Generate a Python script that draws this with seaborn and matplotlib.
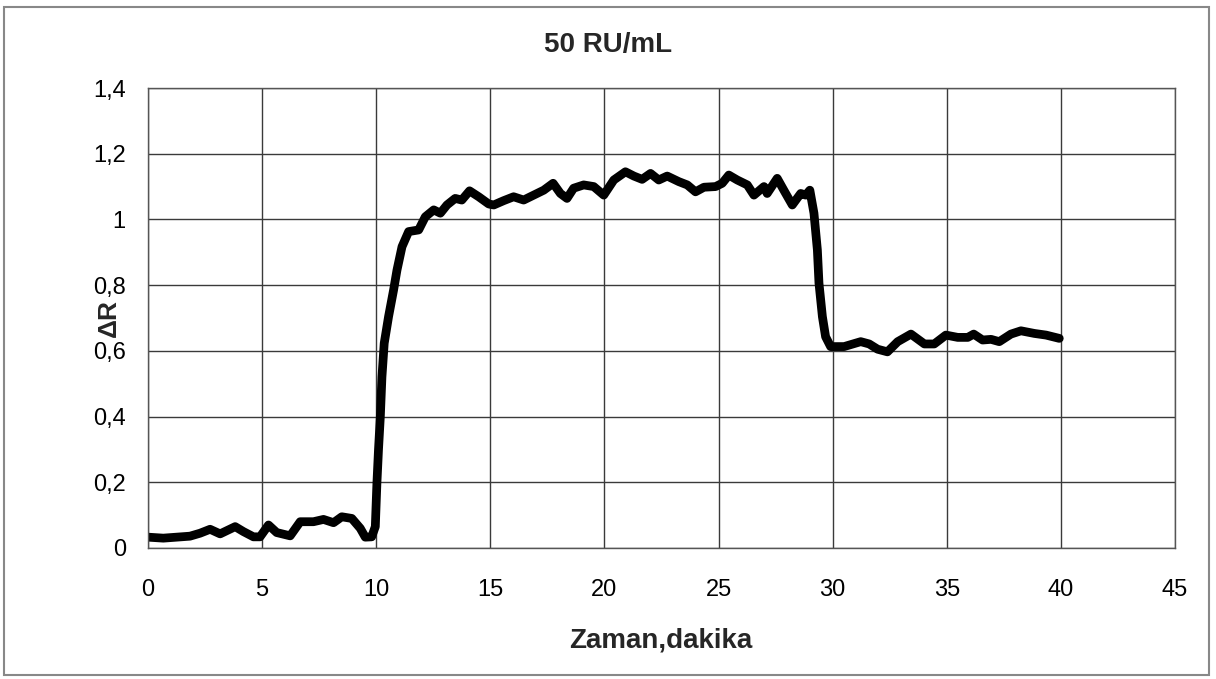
import numpy as np
import pandas as pd
import matplotlib
matplotlib.use("Agg")
import matplotlib.pyplot as plt
import seaborn as sns
from matplotlib.patches import Rectangle

# Data
time_min = [0.0, 0.67, 1.84, 2.28, 2.72, 3.16, 3.82, 4.18, 4.62, 4.91, 5.28, 5.64,
            6.23, 6.67, 7.25, 7.69, 8.13, 8.49, 8.93, 9.30, 9.52, 9.80, 9.96, 10.03,
            10.10, 10.18, 10.25, 10.35, 10.54, 10.76, 10.91, 11.13, 11.42, 11.86,
            12.15, 12.52, 12.81, 13.10, 13.46, 13.75, 14.09, 14.49, 14.93, 15.15,
            15.58, 16.02, 16.46, 16.90, 17.34, 17.75, 18.07, 18.36, 18.65, 19.09,
            19.53, 19.97, 20.41, 20.92, 21.29, 21.65, 22.02, 22.38, 22.75, 23.26,
            23.63, 23.99, 24.36, 24.87, 25.16, 25.45, 25.82, 26.26, 26.55, 26.99,
            27.13, 27.57, 27.86, 28.23, 28.60, 28.82, 29.00, 29.18, 29.33, 29.40,
            29.55, 29.69, 29.91, 30.50, 31.23, 31.60, 31.97, 32.40, 32.85, 33.43,
            34.02, 34.45, 34.96, 35.48, 35.92, 36.18, 36.57, 36.94, 37.30, 37.81,
            38.25, 38.84, 39.35, 39.93]
delta_r = [0.033, 0.030, 0.036, 0.045, 0.057, 0.043, 0.065, 0.050, 0.034, 0.034, 0.070, 0.047,
           0.037, 0.080, 0.080, 0.087, 0.077, 0.095, 0.090, 0.060, 0.033, 0.034, 0.065, 0.197,
           0.300, 0.400, 0.520, 0.623, 0.704, 0.785, 0.846, 0.917, 0.963, 0.968,
           1.008, 1.029, 1.019, 1.044, 1.064, 1.059, 1.087, 1.069, 1.047, 1.044,
           1.057, 1.069, 1.059, 1.074, 1.089, 1.110, 1.079, 1.064, 1.095, 1.105,
           1.100, 1.074, 1.120, 1.145, 1.132, 1.122, 1.140, 1.120, 1.132, 1.115,
           1.105, 1.084, 1.098, 1.100, 1.110, 1.135, 1.120, 1.105, 1.074, 1.100,
           1.079, 1.125, 1.089, 1.044, 1.079, 1.074, 1.089, 1.019, 0.907, 0.806,
           0.704, 0.643, 0.613, 0.613, 0.628, 0.621, 0.605, 0.597, 0.628, 0.651,
           0.621, 0.621, 0.648, 0.641, 0.641, 0.651, 0.633, 0.635, 0.628, 0.651,
           0.661, 0.653, 0.648, 0.638]

x_ticks = [0, 5, 10, 15, 20, 25, 30, 35, 40, 45]
y_ticks = [0, 0.2, 0.4, 0.6, 0.8, 1.0, 1.2, 1.4]
y_tick_labels = ["0", "0,2", "0,4", "0,6", "0,8", "1", "1,2", "1,4"]

title = "50 RU/mL"
x_label = "Zaman,dakika"
y_label = "ΔR"

sns.set_style("white")
plt.rcParams['font.family'] = ['Liberation Sans', 'DejaVu Sans']

W, H = 1216, 679
fig = plt.figure(figsize=(W / 100, H / 100), dpi=100)
ax = fig.add_axes([148/W, 1 - 548/H, (1175-148)/W, (548-88)/H])

df = pd.DataFrame({"t": time_min, "dr": delta_r})
sns.lineplot(data=df, x="t", y="dr", ax=ax, color="black", linewidth=6.3,
             solid_joinstyle="round", solid_capstyle="round", sort=False)

ax.set_xlim(0, 45)
ax.set_ylim(0, 1.4)
ax.set_xticks(x_ticks)
ax.set_xticklabels([str(v) for v in x_ticks])
ax.set_yticks(y_ticks)
ax.set_yticklabels(y_tick_labels)
ax.grid(True, color="#3a3a3a", linewidth=1.0)
ax.set_axisbelow(True)
for s in ax.spines.values():
    s.set_color("#555555")
    s.set_linewidth(1.0)
ax.tick_params(axis="both", labelsize=17, length=0, colors="black")
ax.tick_params(axis="y", pad=16)
ax.tick_params(axis="x", pad=22)
ax.set_xlabel("")
ax.set_ylabel("")

fig.text(661/W, 1 - 647/H, x_label, ha="center", va="baseline", fontsize=20, fontweight="bold")
fig.text(109/W, 1 - 318/H, y_label, ha="center", va="center", fontsize=19, fontweight="bold",
         rotation=90)
fig.text(608/W, 1 - 52/H, title, ha="center", va="baseline", fontsize=20, fontweight="bold")

fig.patches.append(Rectangle((4/W, 4/H), 1205/W, 668/H, transform=fig.transFigure,
                             fill=False, edgecolor="#888888", linewidth=1.5))

fig.savefig("out.png", dpi=100)
